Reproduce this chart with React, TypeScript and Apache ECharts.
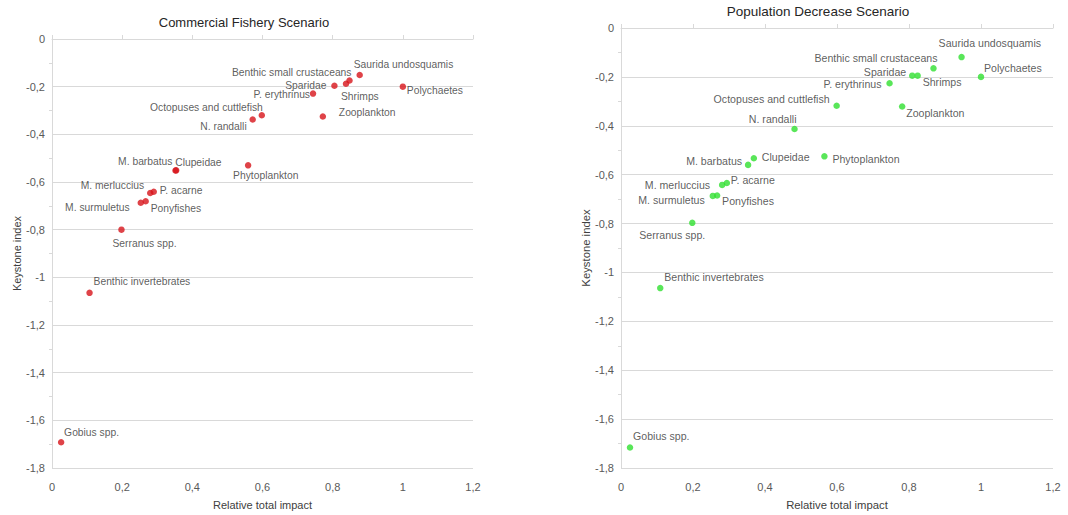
import React, { useEffect, useRef } from "react";
import * as echarts from "echarts";

const speciesNames = [
  "Saurida undosquamis",
  "Benthic small crustaceans",
  "Shrimps",
  "Sparidae",
  "Polychaetes",
  "P. erythrinus",
  "Zooplankton",
  "Octopuses and cuttlefish",
  "N. randalli",
  "M. barbatus",
  "Clupeidae",
  "Phytoplankton",
  "P. acarne",
  "M. merluccius",
  "Ponyfishes",
  "M. surmuletus",
  "Serranus spp.",
  "Benthic invertebrates",
  "Gobius spp.",
];

const fisheryImpact = [0.877, 0.848, 0.838, 0.805, 1.0, 0.744, 0.772, 0.598, 0.572, 0.352, 0.354, 0.559, 0.29, 0.28, 0.267, 0.253, 0.198, 0.107, 0.026];
const fisheryKeystone = [-0.151, -0.174, -0.188, -0.196, -0.2, -0.229, -0.325, -0.32, -0.338, -0.552, -0.551, -0.53, -0.641, -0.646, -0.681, -0.687, -0.8, -1.065, -1.692];

const decreaseImpact = [0.946, 0.868, 0.824, 0.809, 1.0, 0.746, 0.781, 0.599, 0.482, 0.353, 0.369, 0.565, 0.294, 0.281, 0.267, 0.255, 0.198, 0.109, 0.025];
const decreaseKeystone = [-0.119, -0.165, -0.195, -0.195, -0.2, -0.226, -0.321, -0.318, -0.413, -0.56, -0.533, -0.525, -0.634, -0.642, -0.685, -0.687, -0.797, -1.064, -1.716];

const axisTicks = { min: -1.8, max: 0, interval: 0.2 };
const xTicks = { min: 0, max: 1.2, interval: 0.2 };

// label placement (styling): [align, dx, dy]
const fisheryLabelPlace: [string, number, number][] = [
  ["left", -6, -10],
  ["right", 2, -8],
  ["left", -5, 13],
  ["right", -8, 0],
  ["left", 4, 4],
  ["right", -3, 1],
  ["left", 16, -4],
  ["right", 1, -8],
  ["right", -6, 7],
  ["right", -3, -9],
  ["left", -1, -8],
  ["left", -15, 10],
  ["left", 6, -1],
  ["right", -6, -7],
  ["left", 5, 7],
  ["right", -11, 5],
  ["left", -9, 14],
  ["left", 4, -11],
  ["left", 3, -10],
];

const decreaseLabelPlace: [string, number, number][] = [
  ["left", -23, -14],
  ["right", 4, -10],
  ["left", 5, 6],
  ["right", -6, -4],
  ["left", 3, -9],
  ["right", -8, 1],
  ["left", 4, 7],
  ["right", -7, -7],
  ["right", 2, -10],
  ["right", -6, -4],
  ["left", 8, -1],
  ["left", 8, 3],
  ["left", 4, -3],
  ["right", -12, 0],
  ["left", 5, 6],
  ["right", -8, 4],
  ["left", -53, 12],
  ["left", 4, -11],
  ["left", 3, -11],
];

const FONT = "'Liberation Sans', Arial, sans-serif";
const AXIS_GRAY = "#d9d9d9";
const TEXT_GRAY = "#595959";

const fmt = (v: number) => String(Math.round(v * 10) / 10).replace(".", ",");

function buildData(xs: number[], ys: number[], place: [string, number, number][], fontSize: number) {
  return speciesNames.map((name, i) => ({
    name,
    value: [xs[i], ys[i]],
    label: {
      show: true,
      position: "inside",
      align: place[i][0],
      verticalAlign: "middle",
      offset: [place[i][1], place[i][2]],
      formatter: name,
      fontFamily: FONT,
      fontSize,
      color: "#333333",
    },
  }));
}

function makeAxes(gridIndex: number, labelSize: number, nameSize: number, yNameGap: number) {
  const x = {
    type: "value",
    gridIndex,
    min: xTicks.min,
    max: xTicks.max,
    interval: xTicks.interval,
    name: "Relative total impact",
    nameLocation: "middle",
    nameGap: 31,
    nameTextStyle: { fontFamily: FONT, fontSize: nameSize, color: "#404040" },
    axisLine: { show: true, lineStyle: { color: AXIS_GRAY } },
    axisTick: { show: true, inside: true, length: 4, lineStyle: { color: AXIS_GRAY } },
    splitLine: { show: false },
    axisLabel: { fontFamily: FONT, fontSize: labelSize, color: TEXT_GRAY, margin: 13, formatter: fmt },
  };
  const y = {
    type: "value",
    gridIndex,
    min: axisTicks.min,
    max: axisTicks.max,
    interval: axisTicks.interval,
    name: "Keystone index",
    nameLocation: "middle",
    nameGap: yNameGap,
    nameTextStyle: { fontFamily: FONT, fontSize: nameSize, color: "#404040" },
    axisLine: { show: true, onZero: false, lineStyle: { color: AXIS_GRAY } },
    axisTick: { show: false },
    minorTick: { show: true, splitNumber: 2, length: 3, lineStyle: { color: AXIS_GRAY } },
    splitLine: { show: true, lineStyle: { color: AXIS_GRAY } },
    axisLabel: { fontFamily: FONT, fontSize: labelSize, color: TEXT_GRAY, margin: 7, formatter: fmt },
  };
  return { x, y };
}

export default function App() {
  const ref = useRef<HTMLDivElement>(null);
  useEffect(() => {
    document.body.style.margin = "0";
    if (!ref.current) return;
    const chart = echarts.init(ref.current, null, { renderer: "svg" });
    const a0 = makeAxes(0, 11, 11, 28);
    const a1 = makeAxes(1, 11, 11.3, 30);
    chart.setOption({
      animation: false,
      backgroundColor: "#ffffff",
      graphic: [
        {
          type: "text",
          x: 244,
          y: 22,
          style: {
            text: "Commercial Fishery Scenario",
            fontFamily: FONT,
            fontSize: 13,
            fill: "#262626",
            align: "center",
            verticalAlign: "middle",
          },
        },
        {
          type: "text",
          x: 818,
          y: 11,
          style: {
            text: "Population Decrease Scenario",
            fontFamily: FONT,
            fontSize: 13.5,
            fill: "#262626",
            align: "center",
            verticalAlign: "middle",
          },
        },
      ],
      grid: [
        { left: 52, top: 39, width: 421, height: 429 },
        { left: 621, top: 28, width: 432, height: 440 },
      ],
      xAxis: [a0.x, a1.x],
      yAxis: [a0.y, a1.y],
      series: [
        {
          type: "scatter",
          xAxisIndex: 0,
          yAxisIndex: 0,
          symbolSize: 6.5,
          itemStyle: { color: "#d7141a" },
          data: buildData(fisheryImpact, fisheryKeystone, fisheryLabelPlace, 10.3),
        },
        {
          type: "scatter",
          xAxisIndex: 1,
          yAxisIndex: 1,
          symbolSize: 6.5,
          itemStyle: { color: "#2fe02f" },
          data: buildData(decreaseImpact, decreaseKeystone, decreaseLabelPlace, 10.6),
        },
      ],
    });
    return () => chart.dispose();
  }, []);
  return <div ref={ref} style={{ width: 1068, height: 515 }} />;
}
